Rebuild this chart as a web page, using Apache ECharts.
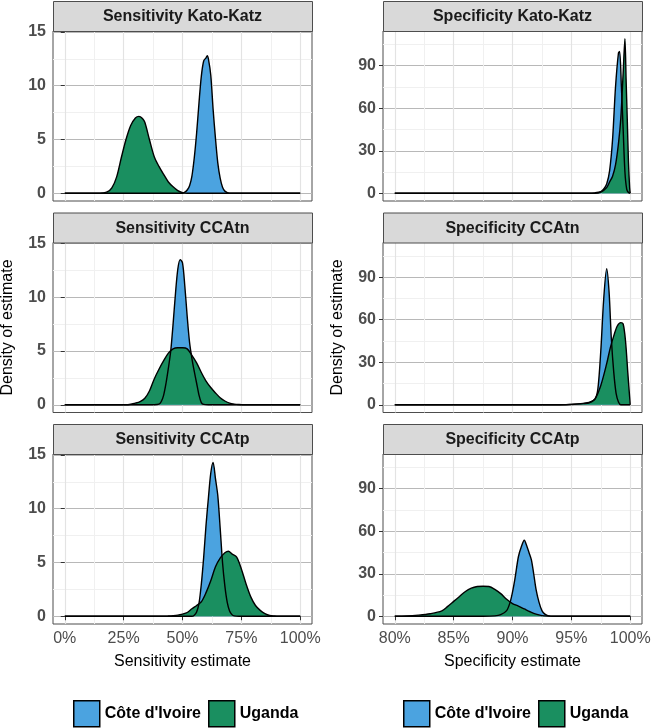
<!DOCTYPE html>
<html><head><meta charset="utf-8">
<script src="https://cdn.jsdelivr.net/npm/echarts@6/dist/echarts.min.js"></script>
<style>html,body{margin:0;padding:0;background:#fff}#c{width:652px;height:728px}</style>
</head><body><div id="c"></div>
<script>
// ---------- labels ----------
const countries = ["Côte d'Ivoire", 'Uganda'];
const panelTitles = ['Sensitivity Kato-Katz','Specificity Kato-Katz','Sensitivity CCAtn','Specificity CCAtn','Sensitivity CCAtp','Specificity CCAtp'];
const sensTicks = [0,25,50,75,100];
const sensMinorTicks = [12.5,37.5,62.5,87.5];
const specTicks = [80,85,90,95,100];
const specMinorTicks = [82.5,87.5,92.5,97.5];
const sensDensityTicks = [0,5,10,15];
const sensDensityMinor = [2.5,7.5,12.5];
const specDensityTicks = [0,30,60,90];
const specDensityMinor = [15,45,75,105];

// ---------- Sensitivity Kato-Katz ----------
const sensKK_civ_x = [0,50,51,52,53,54,55,56,57,58,59,60,60.5,61,62,63,64,65,66,67,68,70,100];
const sensKK_civ_y = [0,0,0.1,0.3,0.7,1.6,3.3,5.6,8.4,10.9,12.3,12.6,12.8,12.5,11.0,7.8,5.1,2.8,1.4,0.55,0.2,0,0];
const sensKK_uga_x = [0,14,16,18,20,22,24,26,28,30,31.5,33,34,36,38,40,42,44,46,48,50,52,100];
const sensKK_uga_y = [0,0,0.03,0.12,0.5,1.5,3.3,5.0,6.3,7.0,7.15,6.95,6.6,4.95,3.4,2.5,1.75,1.05,0.6,0.25,0.06,0,0];

// ---------- Specificity Kato-Katz ----------
const specKK_civ_x = [80,96.5,97,97.5,97.75,98,98.25,98.5,98.75,99,99.1,99.25,99.4,99.55,99.7,99.85,100];
const specKK_civ_y = [0,0,0.3,1.2,3,6.5,16,38,75,99,100,75,45,15,3,0.5,0];
const specKK_uga_x = [80,97,97.5,98,98.25,98.5,98.75,99,99.2,99.4,99.55,99.65,99.75,99.85,99.95,100];
const specKK_uga_y = [0,0,0.8,4,8,12,20,35,53,85,109,80,52,22,4,0];

// ---------- Sensitivity CCAtn ----------
const sensCCAtn_civ_x = [0,38,40,41,42,43,44,45,46,47,48,49,50,51,52,53,54,55,56,57,58,59,61,100];
const sensCCAtn_civ_y = [0,0,0.05,0.3,0.9,2.0,3.4,5.0,7.5,10.3,12.6,13.5,13.2,11.0,8.2,5.8,4.3,3.1,2.0,0.9,0.2,0.03,0,0];
const sensCCAtn_uga_x = [0,26,28,30,32,34,36,38,40,42,44,46,48,50,52,54,56,58,60,62,64,66,68,70,72,74,76,100];
const sensCCAtn_uga_y = [0,0,0.05,0.15,0.3,0.6,1.3,2.4,3.3,4.1,4.8,5.2,5.3,5.3,5.2,4.6,3.9,3.0,2.2,1.6,1.1,0.65,0.35,0.15,0.06,0.02,0,0];

// ---------- Specificity CCAtn ----------
const specCCAtn_civ_x = [80,94,95,95.5,96,96.5,97,97.25,97.5,97.75,98,98.2,98.4,98.6,98.8,99,99.2,100];
const specCCAtn_civ_y = [0,0,0.3,0.6,1.0,1.6,4,11,38,75,96,80,46,23,8,2,0,0];
const specCCAtn_uga_x = [80,94,95,96,96.5,97,97.5,98,98.3,98.6,98.9,99.2,99.4,99.6,99.8,100];
const specCCAtn_uga_y = [0,0,0.2,0.8,1.3,4,13.6,29,40,48.6,55.6,58,57,45,22,0];

// ---------- Sensitivity CCAtp ----------
const sensCCAtp_civ_x = [0,54,55,56,57,58,59,60,61,62,63,64,65,66,67,68,69,70,71,72,74,100];
const sensCCAtp_civ_y = [0,0,0.1,0.4,1.2,3.0,5.5,8.5,11.0,13.3,14.3,12.8,11.2,8.2,5.0,2.8,1.3,0.5,0.15,0.03,0,0];
const sensCCAtp_uga_x = [0,42,44,46,48,50,52,54,56,58,60,62,64,66,68,69.5,71,73,75,77,79,81,83,85,87,89,91,100];
const sensCCAtp_uga_y = [0,0,0.02,0.05,0.1,0.2,0.35,0.7,1.0,1.35,2.2,3.3,4.6,5.4,5.9,6.05,5.8,5.5,4.4,3.0,1.8,1.0,0.55,0.25,0.07,0.02,0,0];

// ---------- Specificity CCAtp ----------
const specCCAtp_civ_x = [80,87.5,88.5,89,89.5,89.8,90,90.2,90.5,90.75,91,91.2,91.4,91.6,91.8,92,92.25,92.5,92.75,93,93.5,100];
const specCCAtp_civ_y = [0,0,0.3,1.2,4,10,17,26,42,49,53.6,50,45,40,30,19,10,4,1.5,0.5,0,0];
const specCCAtp_uga_x = [80,81,82,83,84,84.5,85,85.5,86,86.5,87,87.5,88,88.5,89,89.5,90,90.5,91,91.5,92,92.5,93,94,100];
const specCCAtp_uga_y = [0,0.2,0.8,1.8,3.8,7,10.5,14,17.5,19.8,21,21.2,21,19,16,12,9,7.2,5.2,3.2,1.5,0.5,0.1,0,0];

// ---------- styling / layout ----------
const fillColors = ['#4ba3e0', '#1a8f60'];
const FONT = '"Liberation Sans", Arial, Helvetica, sans-serif';
const panels = [
  {kind:'sens', data:[[sensKK_civ_x,sensKK_civ_y],[sensKK_uga_x,sensKK_uga_y]]},
  {kind:'spec', data:[[specKK_civ_x,specKK_civ_y],[specKK_uga_x,specKK_uga_y]]},
  {kind:'sens', data:[[sensCCAtn_civ_x,sensCCAtn_civ_y],[sensCCAtn_uga_x,sensCCAtn_uga_y]]},
  {kind:'spec', data:[[specCCAtn_civ_x,specCCAtn_civ_y],[specCCAtn_uga_x,specCCAtn_uga_y]]},
  {kind:'sens', data:[[sensCCAtp_civ_x,sensCCAtp_civ_y],[sensCCAtp_uga_x,sensCCAtp_uga_y]]},
  {kind:'spec', data:[[specCCAtp_civ_x,specCCAtp_civ_y],[specCCAtp_uga_x,specCCAtp_uga_y]]}
];
const spec = {
  sens: {min:-5, max:105, ticks:sensTicks, minor:sensMinorTicks, ymin:-0.72, ymax:15.09, yticks:sensDensityTicks, yminor:sensDensityMinor, xname:'Sensitivity estimate'},
  spec: {min:79, max:101, ticks:specTicks, minor:specMinorTicks, ymin:-5.45, ymax:114.5, yticks:specDensityTicks, yminor:specDensityMinor, xname:'Specificity estimate'}
};

const PW = 259, PH = 170, STRIP = 30;
const colLeft = [53, 383];
const rowTop = r => 31 + 211.5 * r;

const grid = [], xAxis = [], yAxis = [], series = [], graphic = [];
panels.forEach((p, i) => {
  const row = Math.floor(i / 2), col = i % 2, s = spec[p.kind];
  const left = colLeft[col], top = rowTop(row);
  grid.push({left, top, width: PW, height: PH, show: true, backgroundColor: '#fff',
             borderColor: '#4d4d4d', borderWidth: 1, containLabel: false, outerBoundsMode: 'none'});
});
// minor axes first (indices 0..5)
panels.forEach((p, i) => {
  const s = spec[p.kind];
  xAxis.push({type:'value', gridIndex:i, min:s.min, max:s.max, position:'top',
    axisLine:{show:false}, axisLabel:{show:false, customValues:s.minor}, axisTick:{show:false, customValues:s.minor},
    splitLine:{show:true, lineStyle:{color:'#f0f0f0', width:1}}});
  yAxis.push({type:'value', gridIndex:i, min:s.ymin, max:s.ymax, position:'right',
    axisLine:{show:false}, axisLabel:{show:false, customValues:s.yminor}, axisTick:{show:false, customValues:s.yminor},
    splitLine:{show:true, lineStyle:{color:'#f0f0f0', width:1}}});
});
// major axes (indices 6..11)
panels.forEach((p, i) => {
  const row = Math.floor(i / 2), s = spec[p.kind];
  const bottom = row === 2;
  xAxis.push({type:'value', gridIndex:i, min:s.min, max:s.max, position:'bottom',
    axisLine:{show:false},
    axisTick:{show:bottom, customValues:s.ticks, length:4, lineStyle:{color:'#333', width:1}},
    axisLabel:{show:bottom, customValues:s.ticks, formatter: v => v + '%', fontSize:16, color:'#4d4d4d', fontFamily:FONT, margin:7},
    splitLine:{show:true, lineStyle:{color:'#e3e3e3', width:1.2}},
    name: bottom ? s.xname : '', nameLocation:'middle', nameGap:30,
    nameTextStyle:{fontSize:16, color:'#000', fontFamily:FONT}});
  yAxis.push({type:'value', gridIndex:i, min:s.ymin, max:s.ymax, position:'left',
    axisLine:{show:false},
    axisTick:{show:true, customValues:s.yticks, length:4, lineStyle:{color:'#333', width:1}},
    axisLabel:{show:true, customValues:s.yticks, fontSize:16, fontWeight:'bold', color:'#4d4d4d', fontFamily:FONT, margin:7},
    splitLine:{show:true, lineStyle:{color:'#b8b8b8', width:1.2}},
    name: row === 1 ? 'Density of estimate' : '', nameLocation:'middle', nameGap:37,
    nameTextStyle:{fontSize:16, color:'#000', fontFamily:FONT}});
});

panels.forEach((p, i) => {
  const pts = p.data.map(([xs, ys]) => xs.map((x, k) => [x, ys[k]]));
  pts.forEach((d, c) => {
    series.push({type:'line', name:countries[c], xAxisIndex:6+i, yAxisIndex:6+i, data:d,
      smooth:0.3, symbol:'none', silent:true, z:2+c,
      itemStyle:{color:fillColors[c]}, lineStyle:{width:0, opacity:0},
      areaStyle:{color:fillColors[c], opacity:1}});
  });
  pts.forEach((d, c) => {
    series.push({type:'line', name:countries[c], xAxisIndex:6+i, yAxisIndex:6+i, data:d,
      smooth:0.3, symbol:'none', silent:true, z:5,
      itemStyle:{color:fillColors[c]}, lineStyle:{color:'#000', width:1.4}});
  });
  const row = Math.floor(i / 2), col = i % 2;
  const left = colLeft[col], top = rowTop(row) - STRIP;
  graphic.push({type:'rect', left:left, top:top, z:10,
    shape:{width:PW, height:STRIP}, style:{fill:'#d9d9d9', stroke:'#4d4d4d', lineWidth:1}});
  graphic.push({type:'text', x:left + PW / 2, y:top + STRIP / 2 + 1, z:11,
    style:{text:panelTitles[i], fontSize:16, fontWeight:'bold', fontFamily:FONT, fill:'#1a1a1a', align:'center', verticalAlign:'middle'}});
});

const legendBase = {data:countries, icon:'rect', itemWidth:26, itemHeight:26, itemGap:7, padding:0,
  selectedMode:false, top:700, orient:'horizontal',
  itemStyle:{borderColor:'#000', borderWidth:1.5},
  textStyle:{fontSize:16, fontWeight:'bold', color:'#000', fontFamily:FONT}};
const legend = [Object.assign({}, legendBase, {left:73}), Object.assign({}, legendBase, {left:403})];

const chart = echarts.init(document.getElementById('c'), null, {renderer:'canvas'});
chart.setOption({animation:false, backgroundColor:'#fff', grid, xAxis, yAxis, series, legend, graphic});
</script>
</body></html>
